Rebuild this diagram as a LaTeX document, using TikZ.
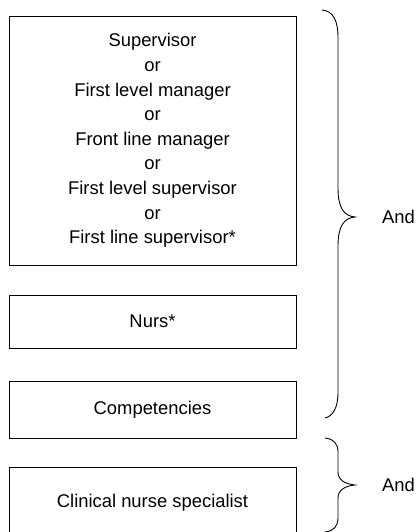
\documentclass[tikz,border=0pt]{standalone}
\usepackage{fontspec}
\setmainfont{Liberation Sans}
\begin{document}
\begin{tikzpicture}[x=1pt,y=-1pt,
  boxnode/.style={draw, line width=0.9pt, inner sep=0pt, align=center,
    minimum width=287pt, font=\fontsize{18.4}{24.6}\selectfont},
  andlabel/.style={inner sep=0pt, font=\fontsize{18.4}{24.6}\selectfont},
  bracepath/.style={line width=0.9pt}]
\useasboundingbox (0,0) rectangle (415,532);
\clip (0,0) rectangle (415,532);
\node[boxnode, minimum height=249pt] (b1) at (152.5,140.5)
  {Supervisor\\or\\First level manager\\or\\Front line manager\\or\\First level supervisor\\or\\First line supervisor*};
\node[boxnode, minimum height=53pt] (b2) at (152.5,321.5) {Nurs*};
\node[boxnode, minimum height=57pt] (b3) at (152.5,409.5) {Competencies};
\node[boxnode, minimum height=72pt] (b4) at (152.5,503) {Clinical nurse specialist};
\draw[bracepath] (322,10) .. controls (333,11) and (338,20) .. (338,38) -- (338,188)
  .. controls (338,208) and (344,216) .. (355,217)
  .. controls (344,218) and (338,226) .. (338,246) -- (338,392)
  .. controls (338,408) and (333,416) .. (325,418);
\draw[bracepath] (325,438) .. controls (334,439) and (338,444) .. (338,452) -- (338,472)
  .. controls (338,480) and (345,484) .. (355,485)
  .. controls (345,486) and (338,490) .. (338,498) -- (338,518)
  .. controls (338,526) and (334,531) .. (325,532);
\node[andlabel, anchor=west] (and1) at (382,217) {And};
\node[andlabel, anchor=west] (and2) at (382,485) {And};
\end{tikzpicture}
\end{document}
